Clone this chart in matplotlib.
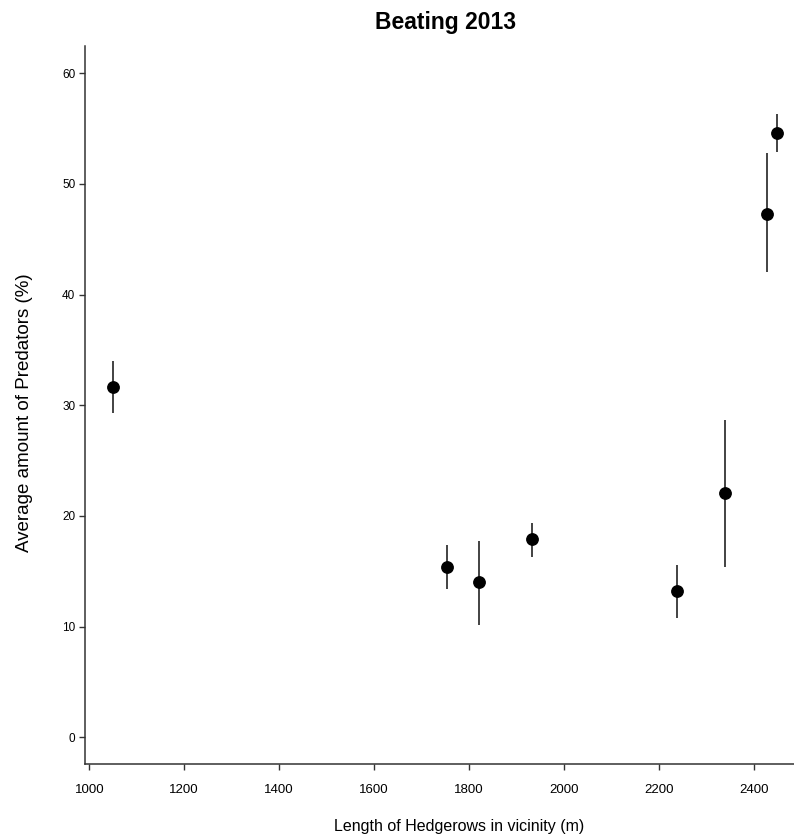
import matplotlib
matplotlib.use("Agg")
import matplotlib.pyplot as plt
import numpy as np

# Hedgerow length (m) vs average predators (%) with error bar ends
hedgerow_length = [1049, 1753, 1822, 1932, 2239, 2339, 2428, 2449]
predators_mean = [31.6, 15.4, 14.0, 17.9, 13.2, 22.1, 47.3, 54.6]
err_low = [29.3, 13.4, 10.1, 16.3, 10.8, 15.4, 42.0, 52.9]
err_high = [34.0, 17.4, 17.7, 19.4, 15.6, 28.7, 52.8, 56.3]

x_ticks = [1000, 1200, 1400, 1600, 1800, 2000, 2200, 2400]
y_ticks = [0, 10, 20, 30, 40, 50, 60]

plt.rcParams['font.family'] = ['Liberation Sans', 'DejaVu Sans']

fig = plt.figure(figsize=(7.94, 8.4), dpi=100)
ax = fig.add_axes([85 / 794, 75.7 / 840, 709 / 794, 718.3 / 840])

y = np.array(predators_mean)
yerr = [y - np.array(err_low), np.array(err_high) - y]
ax.errorbar(hedgerow_length, predators_mean, yerr=yerr, fmt='o', color='black',
            ecolor='#222222', elinewidth=1.2, capsize=0, markersize=8.2)

ax.set_xlim(991, 2485)
ax.set_ylim(-2.44, 62.45)
ax.set_xticks(x_ticks)
ax.set_yticks(y_ticks)

for side in ['top', 'right']:
    ax.spines[side].set_visible(False)
for side in ['left', 'bottom']:
    ax.spines[side].set_color('#333333')
    ax.spines[side].set_linewidth(1.1)

ax.tick_params(axis='x', length=4, width=1, color='#333333', pad=10, labelsize=9.5)
ax.tick_params(axis='y', length=4, width=1, color='#333333', pad=3, labelsize=8.5)

ax.set_xlabel('Length of Hedgerows in vicinity (m)', fontsize=11.5)
ax.xaxis.set_label_coords(0.5 + 20 / 709, -55 / 718.3)
ax.set_ylabel('Average amount of Predators (%)', fontsize=13.5)
ax.yaxis.set_label_coords(-52 / 709, 0.5 - 8 / 718.3)
ax.set_title('Beating 2013', fontsize=16.5, fontweight='bold', x=0.5 + 6 / 709, pad=12)

fig.savefig('out.png', dpi=100)
